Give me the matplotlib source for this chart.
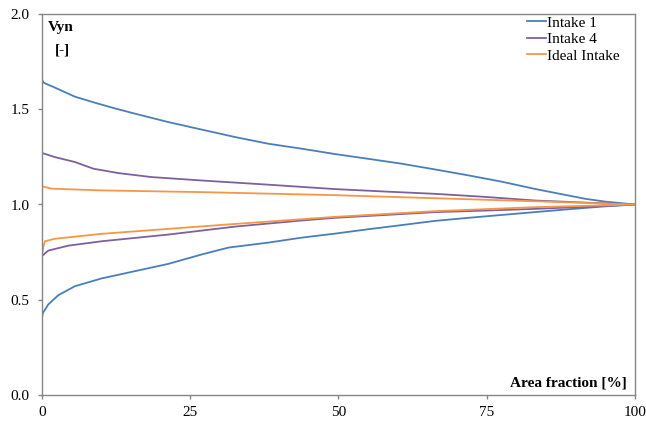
import numpy as np
import matplotlib
matplotlib.use("Agg")
import matplotlib.pyplot as plt

plt.rcParams['font.family'] = ['Liberation Serif', 'DejaVu Serif']

# Intake 1 (upper and lower branch)
x_i1_up = [0, 0.3, 1, 2.2, 5.6, 9, 12.4, 15.7, 21.3, 27, 32.6, 38.2, 43.8, 49.4, 55,
           60.7, 66.3, 71.9, 77.5, 83.1, 87.5, 91.6, 95, 100]
y_i1_up = [1.66, 1.64, 1.63, 1.614, 1.566, 1.534, 1.504, 1.477, 1.433, 1.393, 1.354, 1.319,
           1.293, 1.265, 1.24, 1.214, 1.184, 1.153, 1.12, 1.082, 1.055, 1.03, 1.015, 1.0]
x_i1_lo = [0, 0.2, 1.1, 2.8, 5.6, 10.1, 15.7, 21.3, 27, 31.5, 38.2, 43.8, 49.4, 55,
           60.7, 66.3, 71.9, 77.5, 83.1, 88.8, 94.4, 100]
y_i1_lo = [0.40, 0.43, 0.475, 0.524, 0.571, 0.612, 0.65, 0.688, 0.738, 0.774, 0.80, 0.826,
           0.847, 0.87, 0.892, 0.914, 0.93, 0.945, 0.96, 0.975, 0.989, 1.0]

# Intake 4
x_i4_up = [0, 0.1, 2.2, 5.6, 8.7, 12.9, 18.5, 27, 38.2, 49.4, 57.9, 66.3, 74.7, 83.1, 91.6, 100]
y_i4_up = [1.275, 1.27, 1.249, 1.223, 1.188, 1.165, 1.144, 1.126, 1.104, 1.081, 1.068,
           1.056, 1.04, 1.021, 1.01, 1.0]
x_i4_lo = [0, 0.1, 1.1, 4.5, 10.1, 21.3, 32.6, 43.8, 49.4, 57.9, 66.3, 74.7, 83.1, 91.6, 100]
y_i4_lo = [0.72, 0.731, 0.758, 0.784, 0.807, 0.842, 0.884, 0.916, 0.93, 0.945, 0.96, 0.968,
           0.977, 0.988, 1.0]

# Ideal intake
x_id_up = [0, 0.1, 1.7, 10.1, 27, 49.4, 66.3, 83.1, 100]
y_id_up = [1.10, 1.095, 1.083, 1.074, 1.065, 1.049, 1.033, 1.017, 1.0]
x_id_lo = [0, 0.1, 0.3, 0.55, 2.2, 10.1, 21.3, 32.6, 49.4, 66.3, 83.1, 100]
y_id_lo = [0.74, 0.744, 0.78, 0.807, 0.82, 0.846, 0.872, 0.898, 0.935, 0.965, 0.986, 1.0]

series = [
    ("Intake 1", x_i1_up, y_i1_up, x_i1_lo, y_i1_lo, "#4A7EBB"),
    ("Intake 4", x_i4_up, y_i4_up, x_i4_lo, y_i4_lo, "#7D60A0"),
    ("Ideal Intake", x_id_up, y_id_up, x_id_lo, y_id_lo, "#F79646"),
]

W, H = 646, 423
fig = plt.figure(figsize=(W / 100, H / 100), dpi=100)
ax = fig.add_axes([41.7 / W, 1 - 395 / H, (635 - 41.7) / W, (395 - 14) / H])

for name, xu, yu, xl, yl, col in series:
    # upper branch out to 100 %, lower branch back to 0
    xs = list(xu) + list(xl[::-1])
    ys = list(yu) + list(yl[::-1])
    ax.plot(xs, ys, color=col, lw=1.3, label=name)

ax.set_xlim(0, 100)
ax.set_ylim(0, 2.0)
ax.set_xticks([0, 25, 50, 75, 100])
ax.set_yticks(np.arange(0, 2.01, 0.5))
ax.yaxis.set_major_formatter(matplotlib.ticker.FormatStrFormatter('%.1f'))

for s in ax.spines.values():
    s.set_color('#868686')
    s.set_linewidth(1.0)
ax.tick_params(axis='both', direction='out', length=3, width=1.0, color='#868686',
               labelsize=11, labelcolor='black')
ax.tick_params(axis='y', pad=6)
ax.tick_params(axis='x', pad=5)

fig.text(48 / W, 1 - 28 / H, "Vyn", fontsize=11, fontweight='bold', va='center', ha='left')
fig.text(55 / W, 1 - 50 / H, "[-]", fontsize=11, fontweight='bold', va='center', ha='left')
fig.text(627 / W, 1 - 383 / H, "Area fraction [%]", fontsize=11, fontweight='bold',
         va='center', ha='right')

ax.legend(loc='upper right', bbox_to_anchor=(620 / W, 1 - 16 / H),
          bbox_transform=fig.transFigure, frameon=False, fontsize=11,
          handlelength=1.25, handletextpad=0.1, labelspacing=0.18,
          borderpad=0, borderaxespad=0)

fig.savefig("out.png", dpi=100)
